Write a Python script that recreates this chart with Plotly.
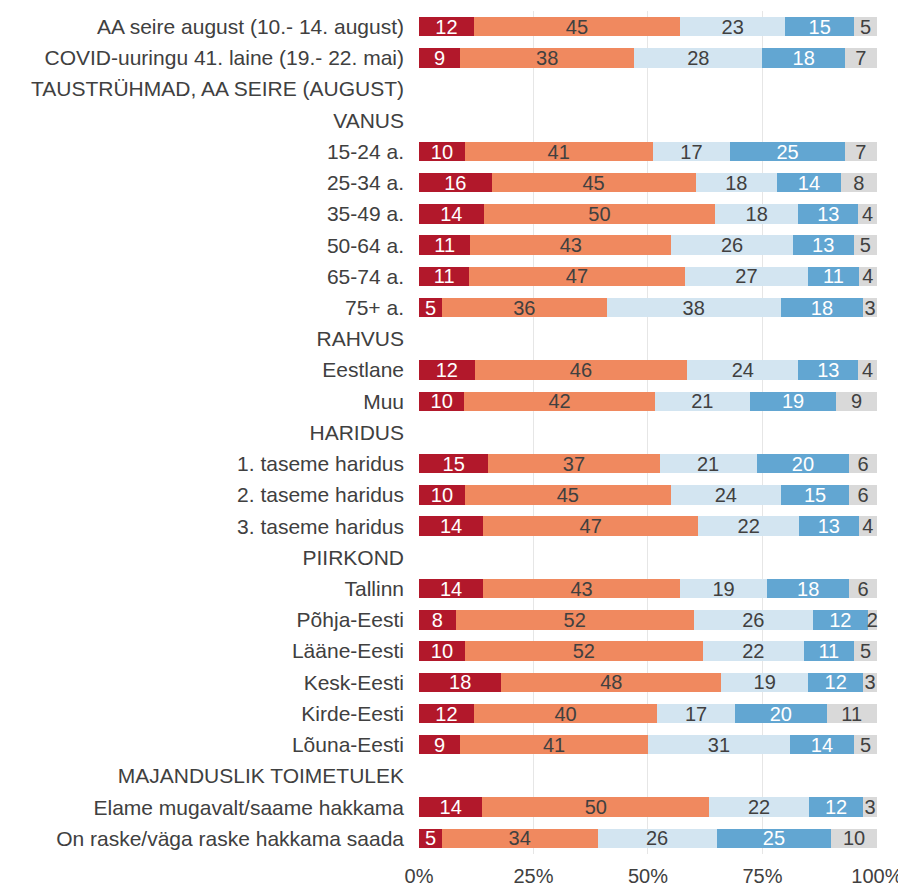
import plotly.graph_objects as go

categories = [
    "AA seire august (10.- 14. august)",
    "COVID-uuringu 41. laine (19.- 22. mai)",
    "TAUSTRÜHMAD, AA SEIRE (AUGUST)",
    "VANUS",
    "15-24 a.", "25-34 a.", "35-49 a.", "50-64 a.", "65-74 a.", "75+ a.",
    "RAHVUS",
    "Eestlane", "Muu",
    "HARIDUS",
    "1. taseme haridus", "2. taseme haridus", "3. taseme haridus",
    "PIIRKOND",
    "Tallinn", "Põhja-Eesti", "Lääne-Eesti", "Kesk-Eesti", "Kirde-Eesti", "Lõuna-Eesti",
    "MAJANDUSLIK TOIMETULEK",
    "Elame mugavalt/saame hakkama",
    "On raske/väga raske hakkama saada",
]

N = None
s1 = [12, 9, N, N, 10, 16, 14, 11, 11, 5, N, 12, 10, N, 15, 10, 14, N, 14, 8, 10, 18, 12, 9, N, 14, 5]
s2 = [45, 38, N, N, 41, 45, 50, 43, 47, 36, N, 46, 42, N, 37, 45, 47, N, 43, 52, 52, 48, 40, 41, N, 50, 34]
s3 = [23, 28, N, N, 17, 18, 18, 26, 27, 38, N, 24, 21, N, 21, 24, 22, N, 19, 26, 22, 19, 17, 31, N, 22, 26]
s4 = [15, 18, N, N, 25, 14, 13, 13, 11, 18, N, 13, 19, N, 20, 15, 13, N, 18, 12, 11, 12, 20, 14, N, 12, 25]
s5 = [5, 7, N, N, 7, 8, 4, 5, 4, 3, N, 4, 9, N, 6, 6, 4, N, 6, 2, 5, 3, 11, 5, N, 3, 10]

series = [s1, s2, s3, s4, s5]
colors = ["#B2182B", "#F0895F", "#D3E5F1", "#62A6D2", "#D9D9D9"]
text_colors = ["white", "#404040", "#404040", "white", "#404040"]

totals = []
for i in range(len(categories)):
    vals = [s[i] for s in series]
    totals.append(sum(vals) if vals[0] is not None else None)

FONT = "Liberation Sans, Arial"

fig = go.Figure()
for s, c, tc in zip(series, colors, text_colors):
    xs = [None if v is None else v / t * 100 for v, t in zip(s, totals)]
    fig.add_trace(go.Bar(
        y=categories, x=xs, orientation="h",
        marker=dict(color=c, line=dict(width=0)),
        text=[None if v is None else str(v) for v in s],
        textposition="inside", insidetextanchor="middle",
        textangle=0, constraintext="none",
        textfont=dict(color=tc, size=20, family=FONT),
        cliponaxis=False,
        hoverinfo="skip",
    ))

fig.update_layout(
    barmode="stack",
    bargap=0.38,
    width=906, height=889,
    margin=dict(l=411, r=37, t=3, b=43),
    plot_bgcolor="white", paper_bgcolor="white",
    showlegend=False,
    font=dict(family=FONT, size=20, color="#404040"),
    uniformtext=dict(minsize=20, mode="show"),
)
fig.update_xaxes(
    range=[0, 100.02], tickvals=[0, 25, 50, 75, 100],
    ticktext=["0%", "25%", "50%", "75%", "100%"],
    showgrid=True, gridcolor="#E6E6E6", gridwidth=1,
    zeroline=False, showline=False, ticks="", automargin=False,
    ticklabelstandoff=8,
    tickfont=dict(size=20, color="#404040", family=FONT),
)
fig.update_yaxes(
    categoryorder="array", categoryarray=categories,
    autorange="reversed", showgrid=False, ticks="", showline=False,
    ticklabelstandoff=14, automargin=False,
    tickfont=dict(size=21, color="#404040", family=FONT),
)

fig.write_html("out.html")
